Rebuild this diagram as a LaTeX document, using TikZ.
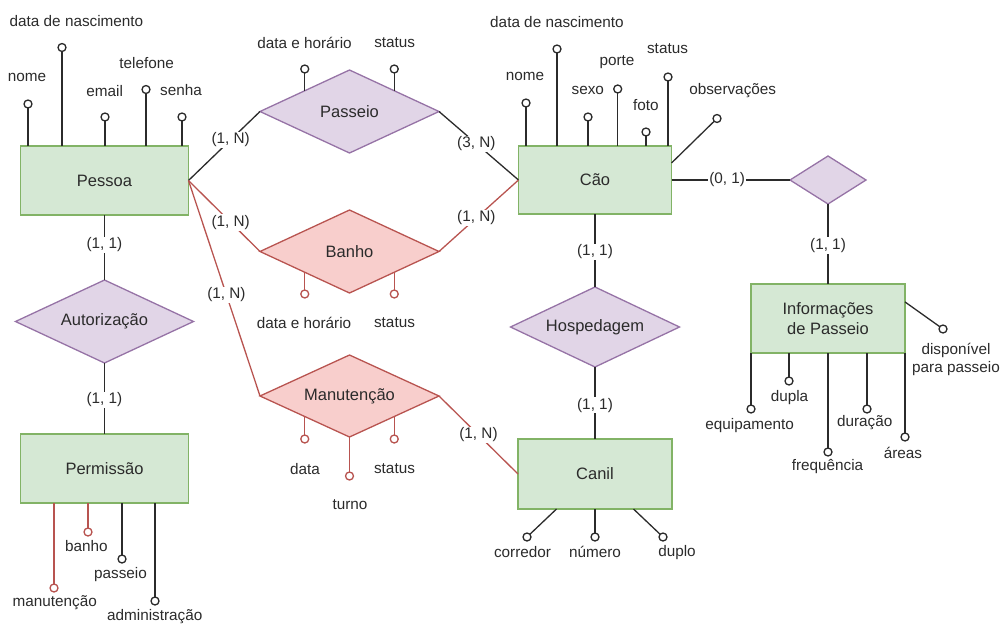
\documentclass[tikz,border=0pt]{standalone}
\usepackage{fontspec}
\setmainfont{Liberation Sans}
\usetikzlibrary{shapes.geometric,calc}
\definecolor{entfill}{HTML}{D5E8D4}
\definecolor{entline}{HTML}{82B366}
\definecolor{relfill}{HTML}{E1D5E7}
\definecolor{relline}{HTML}{9673A6}
\definecolor{redfill}{HTML}{F8CECC}
\definecolor{redline}{HTML}{B85450}
\definecolor{ink}{HTML}{2B2B2B}
\begin{document}
\begin{tikzpicture}[x=1pt,y=-1pt,line width=1.3pt,
  every node/.style={text=ink},
  entity/.style={draw=entline,fill=entfill,rectangle,inner sep=0pt,outer sep=0pt,
    font=\fontsize{16.5}{20}\selectfont},
  rel/.style={draw=relline,fill=relfill,diamond,inner sep=0pt,outer sep=0pt,
    font=\fontsize{16.5}{20}\selectfont},
  redrel/.style={rel,draw=redline,fill=redfill},
  attr/.style={circle,draw=ink,fill=white,minimum size=8pt,inner sep=0pt,outer sep=0pt},
  redattr/.style={attr,draw=redline},
  lbl/.style={font=\fontsize{15.3}{18}\selectfont,inner sep=0pt},
  card/.style={fill=white,font=\fontsize{15.3}{18}\selectfont,inner sep=1pt},
  link/.style={draw=ink},
  redlink/.style={draw=redline},
]
\useasboundingbox (0,0) rectangle (1001,624);

% entities
\node[entity,minimum width=168pt,minimum height=69pt] (pessoa) at (104.5,180.5) {Pessoa};
\node[entity,minimum width=153pt,minimum height=68pt] (cao) at (595,180) {Cão};
\node[entity,minimum width=154pt,minimum height=70pt] (canil) at (595,474) {Canil};
\node[entity,minimum width=154pt,minimum height=69pt,align=center] (info) at (828,318.5) {Informações\\de Passeio};
\node[entity,minimum width=168pt,minimum height=69pt] (perm) at (104.5,468.5) {Permissão};

% relationships
\node[rel,minimum width=179pt,minimum height=83pt,shape aspect=2.16] (passeio) at (349.5,111.5) {Passeio};
\node[redrel,minimum width=179pt,minimum height=83pt,shape aspect=2.16] (banho) at (349.5,251.5) {Banho};
\node[redrel,minimum width=179pt,minimum height=82pt,shape aspect=2.18] (manut) at (349.5,396) {Manutenção};
\node[rel,minimum width=169pt,minimum height=80pt,shape aspect=2.11] (hosp) at (595,327) {Hospedagem};
\node[rel,minimum width=178pt,minimum height=83pt,shape aspect=2.14] (aut) at (104.5,321.5) {Autorização};
\node[rel,minimum width=76pt,minimum height=48pt,shape aspect=1.58] (wlk) at (828,180) {};

% connectors with cardinalities
\draw[link] (pessoa.east) -- node[card,pos=0.59]{(1, N)} (passeio.west);
\draw[link] (passeio.east) -- node[card,pos=0.47]{(3, N)} (cao.west);
\draw[redlink] (pessoa.east) -- node[card,pos=0.59]{(1, N)} (banho.west);
\draw[redlink] (banho.east) -- node[card,pos=0.47]{(1, N)} (cao.west);
\draw[redlink] (pessoa.east) -- node[card,pos=0.53]{(1, N)} (manut.west);
\draw[redlink] (manut.east) -- node[card,pos=0.5]{(1, N)} (canil.west);
\draw[link] (cao.east) -- node[card,pos=0.47]{(0, 1)} (wlk.west);
\draw[link] (wlk.south) -- node[card,pos=0.52]{(1, 1)} (info.north);
\draw[link] (cao.south) -- node[card,pos=0.52]{(1, 1)} (hosp.north);
\draw[link] (hosp.south) -- node[card,pos=0.53]{(1, 1)} (canil.north);
\draw[link] (pessoa.south) -- node[card,pos=0.46]{(1, 1)} (aut.north);
\draw[link] (aut.south) -- node[card,pos=0.52]{(1, 1)} (perm.north);

% Pessoa attributes
\node[attr] (pNome) at (28,104) {};
\node[attr] (pNasc) at (62,47.5) {};
\node[attr] (pMail) at (105,117) {};
\node[attr] (pTel) at (146,89.5) {};
\node[attr] (pSenha) at (182,117) {};
\foreach \a in {pNome,pNasc,pMail,pTel,pSenha}
  \draw[link] (\a) -- (\a |- pessoa.north);
\node[lbl] (lpNome) at (27,77) {nome};
\node[lbl] (lpNasc) at (76.5,21) {data de nascimento};
\node[lbl] (lpMail) at (104.7,91) {email};
\node[lbl] (lpTel) at (146.7,63) {telefone};
\node[lbl] (lpSenha) at (181,90) {senha};

% Passeio attributes
\node[attr] (psDh) at (304.75,69) {};
\node[attr] (psSt) at (394.25,69) {};
\draw[link] (psDh) -- ($(passeio.west)!0.5!(passeio.north)$);
\draw[link] (psSt) -- ($(passeio.north)!0.5!(passeio.east)$);
\node[lbl] (lpsDh) at (304.5,43) {data e horário};
\node[lbl] (lpsSt) at (394.7,43) {status};

% Banho attributes
\node[redattr] (bDh) at (304.75,294) {};
\node[redattr] (bSt) at (394.25,294) {};
\draw[redlink] (bDh) -- ($(banho.west)!0.5!(banho.south)$);
\draw[redlink] (bSt) -- ($(banho.south)!0.5!(banho.east)$);
\node[lbl] (lbDh) at (304,323) {data e horário};
\node[lbl] (lbSt) at (394.5,323) {status};

% Manutencao attributes
\node[redattr] (mData) at (304.75,439) {};
\node[redattr] (mSt) at (394.25,439) {};
\node[redattr] (mTurno) at (349.5,476) {};
\draw[redlink] (mData) -- ($(manut.west)!0.5!(manut.south)$);
\draw[redlink] (mSt) -- ($(manut.south)!0.5!(manut.east)$);
\draw[redlink] (mTurno) -- (manut.south);
\node[lbl] (lmData) at (305,469) {data};
\node[lbl] (lmSt) at (394.5,469) {status};
\node[lbl] (lmTurno) at (350,505) {turno};

% Cao attributes
\node[attr] (cNome) at (526,103) {};
\node[attr] (cNasc) at (557,49) {};
\node[attr] (cSexo) at (588,117) {};
\node[attr] (cPorte) at (617.7,89) {};
\node[attr] (cFoto) at (646,132) {};
\node[attr] (cSt) at (668,77) {};
\node[attr] (cObs) at (717,118.5) {};
\foreach \a in {cNome,cNasc,cSexo,cPorte,cFoto,cSt}
  \draw[link] (\a) -- (\a |- cao.north);
\draw[link] (cObs) -- ($(cao.north east)!0.25!(cao.south east)$);
\node[lbl] (lcNome) at (525,76) {nome};
\node[lbl] (lcNasc) at (557,22) {data de nascimento};
\node[lbl] (lcSexo) at (587.8,90.5) {sexo};
\node[lbl] (lcPorte) at (617,62) {porte};
\node[lbl] (lcFoto) at (645.8,105) {foto};
\node[lbl] (lcSt) at (667.5,49) {status};
\node[lbl] (lcObs) at (732.7,90.5) {observações};

% Informacoes de Passeio attributes
\node[attr] (iEq) at (751,409) {};
\node[attr] (iDup) at (789,381) {};
\node[attr] (iFreq) at (828,452) {};
\node[attr] (iDur) at (867,409) {};
\node[attr] (iAr) at (905,437) {};
\node[attr] (iDisp) at (943,329) {};
\foreach \a in {iEq,iDup,iFreq,iDur,iAr}
  \draw[link] (\a) -- (\a |- info.south);
\draw[link] (iDisp) -- ($(info.north east)!0.26!(info.south east)$);
\node[lbl] (liEq) at (749.7,426) {equipamento};
\node[lbl] (liDup) at (789.5,397.5) {dupla};
\node[lbl] (liFreq) at (827.5,466.5) {frequência};
\node[lbl] (liDur) at (864.7,423) {duração};
\node[lbl] (liAr) at (903,453) {áreas};
\node[lbl,align=center] (liDisp) at (956,359) {disponível\\para passeio};

% Canil attributes
\node[attr] (kCor) at (527,537) {};
\node[attr] (kNum) at (595,537) {};
\node[attr] (kDup) at (663,537) {};
\draw[link] (kCor) -- ($(canil.south west)!0.25!(canil.south east)$);
\draw[link] (kNum) -- (canil.south);
\draw[link] (kDup) -- ($(canil.south west)!0.75!(canil.south east)$);
\node[lbl] (lkCor) at (522.5,552.5) {corredor};
\node[lbl] (lkNum) at (595,551.5) {número};
\node[lbl] (lkDup) at (677,553) {duplo};

% Permissao attributes
\node[redattr] (eMan) at (54,588) {};
\node[redattr] (eBan) at (88,532) {};
\node[attr] (ePas) at (122,559) {};
\node[attr] (eAdm) at (155,601) {};
\draw[redlink] (eMan) -- (eMan |- perm.south);
\draw[redlink] (eBan) -- (eBan |- perm.south);
\draw[link] (ePas) -- (ePas |- perm.south);
\draw[link] (eAdm) -- (eAdm |- perm.south);
\node[lbl] (leMan) at (54.7,602.5) {manutenção};
\node[lbl] (leBan) at (86.3,546.5) {banho};
\node[lbl] (lePas) at (120.5,575) {passeio};
\node[lbl] (leAdm) at (154.8,616.5) {administração};
\end{tikzpicture}
\end{document}
